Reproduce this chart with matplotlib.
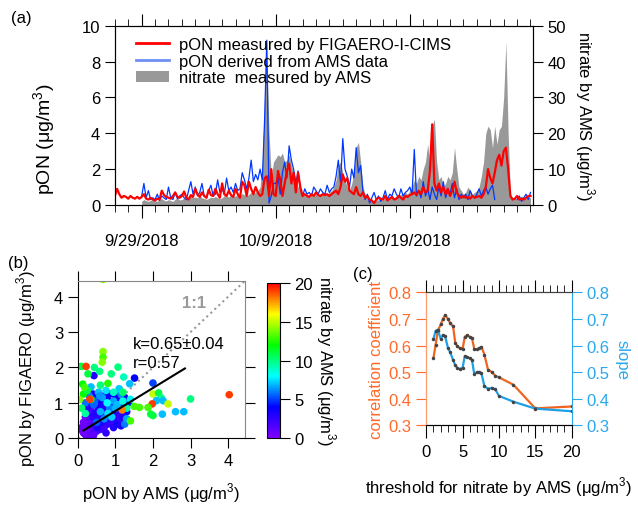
import datetime as dt

import numpy as np
import pandas as pd
import matplotlib
matplotlib.use("Agg")
import matplotlib.pyplot as plt
import matplotlib.dates as mdates
from matplotlib.colors import LinearSegmentedColormap
from matplotlib.lines import Line2D
from matplotlib.patches import Patch
from matplotlib.ticker import MultipleLocator

plt.rcParams["font.family"] = ["Liberation Sans", "DejaVu Sans"]
plt.rcParams["mathtext.fontset"] = "custom"
plt.rcParams["mathtext.rm"] = "Liberation Sans"
plt.rcParams["font.size"] = 12

# ---- (a) time series, 4-hourly values (one row per day) ----
figaero_start = "2018-09-27 00:00"
pon_figaero = [
    0.5, 0.9, 0.6, 0.4, 0.5, 0.45,      # 9/27
    0.35, 0.5, 0.4, 0.35, 0.45, 0.35,   # 9/28
    0.45, 0.6, 0.35, 0.3, 0.4, 0.3,     # 9/29
    0.25, 0.35, 0.3, 0.8, 0.55, 0.45,
    0.4, 0.35, 0.5, 0.7, 0.45, 0.4,
    0.5, 0.75, 0.4, 0.3, 0.55, 0.45,
    0.9, 0.6, 0.45, 0.7, 0.5, 0.4,
    0.85, 0.55, 0.5, 0.9, 0.6, 0.4,
    1.2, 0.6, 0.5, 0.8, 0.55, 0.45,
    0.9, 0.6, 0.4, 1.3, 1.1, 0.5,
    1.3, 0.9, 0.6, 1.0, 0.7, 0.5,       # 10/7
    0.6, 1.5, 1.6, 0.5, 2.0, 0.6,       # 10/8
    0.5, 1.9, 1.4, 0.5, 1.2, 1.9,       # 10/9
    2.3, 1.2, 1.8, 0.7, 1.8, 1.0,
    0.5, 0.6, 0.5, 0.45, 0.6, 0.5,
    0.7, 0.55, 0.5, 0.6, 0.55, 0.6,
    0.5, 0.6, 0.7, 0.8, 0.6, 1.0,
    1.7, 1.3, 1.5, 0.8, 0.7, 0.6,
    1.0, 0.6, 0.5, 0.7, 0.4, 0.5,
    0.3, 0.25, 0.1, 0.3, 0.4, 0.35,
    0.3, 0.5, 0.25, 0.35, 0.45, 0.3,
    0.35, 0.5, 0.4, 0.3, 0.5, 0.45,
    0.55, 0.6, 0.7, 0.55, 0.8, 0.6,     # 10/19
    1.0, 0.7, 0.8, 1.9, 4.5, 1.2,
    0.8, 1.2, 0.7, 1.0, 0.6, 0.9,
    0.5, 0.8, 1.3, 0.7, 0.5, 0.4,
    0.5, 0.4, 0.45, 0.35, 0.5, 0.4,
    0.45, 0.5, 0.4, 0.6, 1.0, 2.0,
    1.5, 1.2, 1.8, 2.5, 2.8, 2.2,
    3.0, 3.2, 2.0, 0.5, 0.3, 0.35,
    0.5, 0.3, 0.35, 0.3, 0.4, 0.5,      # 10/27
    0.5,
]

ams_start = "2018-09-29 00:00"
pon_ams = [
    0.5, 1.2, 0.4, 0.8, 0.3, 0.4,       # 9/29
    0.3, 0.6, 0.25, 0.5, 0.4, 0.3,
    1.0, 0.4, 0.3, 0.7, 0.35, 0.5,
    0.6, 0.4, 0.3, 0.8, 1.3, 0.6,
    1.0, 0.5, 0.7, 1.2, 0.5, 0.4,
    0.8, 1.1, 0.5, 0.6, 1.4, 0.7,
    0.9, 0.6, 1.5, 0.8, 1.0, 0.7,
    1.2, 0.8, 0.9, 1.8, 1.4, 0.9,
    1.5, 2.5, 1.3, 1.7, 1.4, 2.0,       # 10/7
    1.4, 4.7, 9.2, 0.1, 0.5, 1.2,       # 10/8
    1.2, 1.6, 0.6, 1.8, 2.4, 1.5,
    3.3, 2.5, 2.0, 1.2, 1.9, 0.9,
    0.5, 0.9, 0.6, 0.7, 0.5, 1.0,
    0.8, 0.6, 0.9, 0.7, 0.6, 1.1,
    0.7, 0.9, 1.0, 1.6, 2.5, 1.2,
    3.7, 2.0, 1.6, 1.0, 2.0, 1.5,
    3.2, 1.8, 2.2, 0.8, 0.3, 0.6,
    0.1, 0.4, 0.7, 0.3, 0.5, 0.2,
    0.4, 0.8, 0.3, 0.6, 0.5, 0.9,
    0.6, 0.4, 0.9, 0.5, 0.7, 0.8,
    1.0, 0.6, 3.1, 0.5, 0.8, 0.4,       # 10/19
    1.3, 0.5, 0.9, 0.3, 1.0, 0.6,
    0.3, 1.0, 0.5, 1.3, 0.4, 0.8,
    0.6, 1.2, 0.4, 0.9, 0.3, 0.6,
    0.4, 0.6, 0.3, 0.8, 0.5, 0.4,
    0.6, 0.9, 0.5, 0.8, 1.0, 0.6,
    0.9, 1.1, 0.3, np.nan, np.nan, np.nan,
    np.nan, np.nan, np.nan, np.nan, np.nan, np.nan,
    0.3, 0.5, 0.2, 0.4, 0.6, 0.3,
    0.7,
]

nitrate = [
    1.0, 1.5, 1.2, 1.0, 1.3, 1.5,       # 9/29
    1.2, 1.0, 1.5, 1.8, 1.3, 1.1,
    1.5, 1.2, 1.0, 1.6, 2.0, 1.4,
    1.5, 2.0, 1.6, 1.8, 2.5, 2.0,
    2.2, 2.0, 2.5, 2.0, 1.8, 1.6,
    1.8, 2.2, 2.0, 2.4, 2.0, 1.7,
    2.0, 2.6, 2.5, 2.2, 2.8, 2.3,
    2.5, 3.0, 2.6, 3.2, 2.8, 2.5,
    3.0, 3.5, 3.0, 3.6, 4.0, 5.0,
    12, 30, 42, 20, 8, 12,              # 10/8
    13, 14, 13.5, 14.5, 12, 12.5,
    14, 11, 9, 7, 5, 4,
    3, 2.5, 2.8, 2.2, 2.5, 2.6,
    3, 2.5, 3.2, 2.8, 3.5, 3,
    3.5, 4, 5, 7, 11, 12,
    9, 7, 5, 4, 6, 9,
    16, 17.5, 12, 5, 3, 2,
    1.5, 1.2, 1, 1.3, 1.5, 1.2,
    1.5, 2, 1.8, 2.2, 2.5, 2,
    2.5, 3, 2.8, 3.2, 3.5, 3,
    4, 5, 7, 6, 8, 7,                   # 10/19
    10, 12, 17, 11, 22, 24,
    12, 7, 8, 5, 6, 8,
    7, 9, 16, 10, 5, 4,
    3, 3.5, 5, 4, 3, 3.5,
    4, 5, 8, 12, 20, 22,
    21, 16, 22, 17, 21, 22,
    30, 45.5, 20, 3, 2, 2,
    1.5, 2, 2.5, 2, 1.8, 2.2,
    2,
]

date_ticks = [dt.datetime(2018, 9, 29), dt.datetime(2018, 10, 9), dt.datetime(2018, 10, 19)]
date_labels = ["9/29/2018", "10/9/2018", "10/19/2018"]

# ---- (b) scatter: pON by AMS, pON by FIGAERO, nitrate ----
sc_ams = [
    0.15, 0.2, 0.25, 0.18, 0.3, 0.35, 0.22, 0.28, 0.4, 0.12, 0.32, 0.45, 0.38, 0.5, 0.25,
    0.15, 0.55, 0.42, 0.6, 0.2, 0.48, 0.65, 0.3, 0.7, 0.75, 0.58, 0.8, 0.85, 0.9, 0.95,
    1.0, 1.05, 1.1, 1.15, 0.68, 0.35, 0.1, 0.22, 0.33, 0.27,
    0.45, 0.55, 0.62, 0.72, 0.8, 0.9, 1.0, 1.1, 1.2, 1.25, 0.95, 1.05, 1.3, 0.5, 0.4,
    0.3, 0.6, 1.15, 0.85, 1.2, 0.75, 0.25, 0.4, 0.7, 1.35, 0.52, 0.9, 1.0, 0.63,
    0.3, 0.45, 0.55, 0.65, 0.75, 0.85, 0.95, 1.05, 1.15, 0.2, 0.6, 0.9, 1.25, 1.3, 0.5,
    0.35, 0.8, 1.0, 1.4, 0.7, 1.1, 0.42, 0.58, 0.78, 1.2,
    0.1, 0.2, 0.15, 0.6, 0.95, 1.2, 0.35, 0.8, 1.3, 1.5, 0.25,
    0.67, 0.67, 0.67, 0.65, 0.09, 0.22, 0.44, 0.43, 0.27, 0.13, 0.18, 0.58, 0.89, 1.07,
    1.22, 1.51, 1.38, 2.0, 0.04, 2.0, 2.15, 2.22, 2.09, 2.27, 1.98, 2.4, 3.0, 4.03,
    1.64, 1.87, 1.94, 2.0, 2.25, 2.6, 2.82, 1.4, 0.32, 1.18,
]
sc_figaero = [
    0.15, 0.1, 0.2, 0.3, 0.12, 0.25, 0.4, 0.05, 0.15, 0.22, 0.35, 0.3, 0.45, 0.2, 0.5,
    0.45, 0.35, 0.08, 0.25, 0.6, 0.5, 0.4, 0.65, 0.3, 0.5, 0.6, 0.4, 0.6, 0.45, 0.7,
    0.55, 0.8, 0.65, 0.5, 0.75, 0.8, 0.3, 0.25, 0.05, 0.6,
    0.7, 0.85, 1.0, 0.9, 1.1, 0.95, 1.2, 1.05, 0.9, 1.15, 0.3, 0.4, 0.75, 1.1, 1.25,
    0.95, 0.55, 0.35, 1.25, 0.6, 0.15, 0.85, 0.6, 1.2, 1.0, 0.3, 0.75, 0.9, 0.45,
    1.2, 1.05, 1.3, 1.15, 1.35, 0.85, 1.05, 0.95, 1.25, 1.0, 0.75, 0.6, 0.4, 0.55, 0.45,
    1.45, 0.7, 0.85, 1.1, 0.55, 1.4, 0.95, 1.2, 1.0, 1.05,
    0.85, 0.7, 1.25, 1.5, 1.3, 1.3, 1.1, 1.55, 0.85, 0.9, 1.35,
    4.49, 2.45, 2.29, 2.15, 2.03, 2.03, 2.0, 1.77, 1.82, 1.53, 1.44, 1.89, 1.82, 2.01,
    1.73, 1.7, 1.54, 1.56, 1.09, 1.25, 1.28, 1.14, 1.06, 1.06, 0.97, 0.97, 1.11, 1.23,
    0.87, 0.87, 0.68, 0.64, 0.68, 0.75, 0.75, 0.49, 1.1, 0.8,
]
sc_nitrate = [
    0.5, 0.8, 1.0, 0.6, 1.2, 1.0, 0.9, 0.7, 1.5, 0.4, 1.2, 1.6, 1.4, 1.8, 0.9,
    0.6, 1.5, 1.1, 2.0, 1.0, 1.7, 2.2, 1.3, 1.9, 2.0, 1.6, 2.4, 2.2, 2.5, 2.6,
    2.3, 2.8, 2.5, 2.1, 1.8, 1.5, 0.8, 0.7, 1.0, 1.2,
    3.0, 3.2, 3.5, 2.8, 3.6, 3.0, 3.8, 3.4, 2.9, 3.5, 3.0, 3.3, 3.6, 3.8, 3.2,
    2.6, 2.7, 3.1, 3.9, 3.0, 2.5, 2.8, 2.9, 4.0, 4.2, 3.0, 3.4, 3.7, 3.1,
    6.0, 5.5, 7.0, 6.5, 7.5, 6.0, 6.5, 7.0, 6.2, 5.8, 6.8, 7.2, 6.0, 6.5, 5.5,
    7.0, 7.5, 6.8, 7.8, 6.2, 7.2, 5.6, 6.4, 8.0, 8.5,
    10.5, 9.5, 12.0, 10.0, 9.0, 10.5, 11.5, 12.5, 9.5, 13.0, 11.0,
    14.0, 14.0, 13.0, 14.0, 11.0, 19.0, 10.0, 3.0, 11.0, 12.0, 13.0, 10.0, 10.0, 10.0,
    9.0, 4.0, 7.0, 5.0, 14.0, 15.0, 11.0, 10.0, 7.0, 7.0, 19.0, 15.0, 10.0, 19.0,
    13.0, 13.0, 11.0, 11.0, 7.0, 7.0, 7.0, 13.0, 19.0, 18.0,
]
fit_k = 0.65
fit_b = 0.12
fit_range = [0.15, 2.85]

# ---- (c) threshold analysis ----
thresholds = [1.0, 1.3, 1.6, 2.0, 2.3, 2.6, 3.0, 3.3, 3.7, 4.0, 4.3, 4.6, 5.0, 5.3, 5.6,
              6.0, 6.3, 6.6, 7.0, 7.3, 7.6, 8.0, 8.5, 9.0, 9.5, 10, 12, 15, 20]
corr_coef = [0.553, 0.603, 0.655, 0.68, 0.70, 0.715, 0.70, 0.685, 0.672, 0.61, 0.597, 0.59,
             0.585, 0.633, 0.638, 0.633, 0.628, 0.588, 0.585, 0.59, 0.595, 0.566, 0.509,
             0.5, 0.486, 0.48, 0.452, 0.363, 0.37]
slope = [0.625, 0.655, 0.66, 0.625, 0.64, 0.635, 0.59, 0.575, 0.545, 0.525, 0.515, 0.512,
         0.515, 0.56, 0.555, 0.553, 0.545, 0.494, 0.5, 0.5, 0.495, 0.447, 0.437, 0.44,
         0.435, 0.41, 0.388, 0.362, 0.352]

orange = "#ff6a2a"
orange_line = "#f0641e"
blue = "#2aa8ee"
blue_line = "#1e9fe6"
TICK = 12
LAB = 12

rainbow = LinearSegmentedColormap.from_list(
    "igor_rainbow",
    [(0.5, 0.0, 1.0), (0.0, 0.0, 1.0), (0.0, 1.0, 1.0), (0.0, 1.0, 0.0), (1.0, 1.0, 0.0), (1.0, 0.0, 0.0)],
)

fig = plt.figure(figsize=(6.38, 5.06), dpi=100)

# ================= (a) =================
t_fig = pd.date_range(figaero_start, periods=len(pon_figaero), freq="4h")
t_ams = pd.date_range(ams_start, periods=len(pon_ams), freq="4h")

ax_a = fig.add_axes([0.180, 0.593, 0.655, 0.354])
ax_n = ax_a.twinx()
ax_a.set_zorder(ax_n.get_zorder() + 1)
ax_a.patch.set_visible(False)

ax_n.fill_between(t_ams, 0, nitrate, color="#999999", lw=0)
ax_a.plot(t_ams, pon_ams, color="#0038ff", lw=0.9)
ax_a.plot(t_fig, pon_figaero, color="#ff0000", lw=1.6)

ax_a.set_xlim(dt.datetime(2018, 9, 27), dt.datetime(2018, 10, 28, 4))
ax_a.set_ylim(0, 10)
ax_n.set_ylim(0, 50)
ax_a.set_xticks(date_ticks)
ax_a.set_xticklabels(date_labels)
ax_a.xaxis.set_minor_locator(mdates.DayLocator())
ax_a.set_yticks(np.arange(0, 11, 2))
ax_n.set_yticks(np.arange(0, 51, 10))
ax_a.tick_params(axis="x", which="major", direction="out", length=9, top=True, pad=11, labelsize=TICK)
ax_a.tick_params(axis="x", which="minor", direction="out", length=5, top=True)
ax_a.tick_params(axis="y", direction="out", length=7, labelsize=TICK)
ax_n.tick_params(axis="y", direction="out", length=7, labelsize=TICK)
ax_a.set_ylabel(r"pON (μg/m$^{3}$)", fontsize=14)
ax_a.yaxis.set_label_coords(-0.135, 0.37)
ax_n.set_ylabel(r"nitrate by AMS (μg/m$^{3}$)", fontsize=LAB, rotation=270, labelpad=22)

handles = [
    Line2D([], [], color="#ff0000", lw=2),
    Line2D([], [], color="#6f8ff5", lw=2),
    Patch(facecolor="#999999", edgecolor="none"),
]
labels = ["pON measured by FIGAERO-I-CIMS", "pON derived from AMS data", "nitrate  measured by AMS"]
ax_a.legend(handles, labels, loc="upper left", bbox_to_anchor=(0.035, 0.975), frameon=False,
            fontsize=12, handlelength=2.0, handletextpad=0.6, labelspacing=0.1, borderaxespad=0)
fig.text(0.018, 0.955, "(a)", fontsize=LAB)

# ================= (b) =================
ax_b = fig.add_axes([0.122, 0.132, 0.262, 0.311])
lim = 4.45
ax_b.plot([0, lim], [0, lim], ls=":", color="#999999", lw=1.5, zorder=1)
sc = ax_b.scatter(sc_ams, sc_figaero, c=sc_nitrate, cmap=rainbow, vmin=0, vmax=20,
                  s=30, edgecolors="none", zorder=2)
fx = np.array(fit_range)
ax_b.plot(fx, fit_k * fx + fit_b, color="black", lw=1.5, zorder=3)
ax_b.set_xlim(0, lim)
ax_b.set_ylim(0, lim)
ax_b.set_xticks([0, 1, 2, 3, 4])
ax_b.set_yticks([0, 1, 2, 3, 4])
ax_b.tick_params(direction="out", length=7, top=True, right=True, labelsize=TICK)
for side in ("top", "right"):
    ax_b.spines[side].set_color("#888888")
ax_b.text(3.1, 3.85, "1:1", color="#999999", fontsize=LAB, ha="center", va="center", fontweight="bold")
ax_b.text(1.47, 2.67, "k=0.65±0.04", fontsize=LAB, va="center")
ax_b.text(1.47, 2.15, "r=0.57", fontsize=LAB, va="center")
ax_b.set_xlabel(r"pON by AMS (μg/m$^{3}$)", fontsize=LAB, labelpad=9)
ax_b.set_ylabel(r"pON by FIGAERO (μg/m$^{3}$)", fontsize=LAB)
ax_b.yaxis.set_label_coords(-0.24, 0.45)
fig.text(0.013, 0.470, "(b)", fontsize=LAB)

cax = fig.add_axes([0.4185, 0.132, 0.020, 0.307])
cb = fig.colorbar(sc, cax=cax, ticks=[0, 5, 10, 15, 20])
cb.ax.tick_params(direction="out", length=7, labelsize=TICK)
cb.set_label(r"nitrate by AMS (μg/m$^{3}$)", fontsize=LAB, rotation=270, labelpad=18)

# ================= (c) =================
ax_c = fig.add_axes([0.668, 0.158, 0.228, 0.262])
ax_s = ax_c.twinx()
ax_c.plot(thresholds, corr_coef, color=orange_line, lw=1.6, marker="o", ms=1.5,
          mfc="#444444", mec="#444444")
ax_s.plot(thresholds, slope, color=blue_line, lw=1.6, marker="o", ms=1.5,
          mfc="#444444", mec="#444444")
ax_c.set_xlim(0, 20)
ax_c.set_ylim(0.3, 0.8)
ax_s.set_ylim(0.3, 0.8)
ax_c.set_xticks([0, 5, 10, 15, 20])
ax_c.xaxis.set_minor_locator(MultipleLocator(1))
ax_c.set_yticks(np.arange(0.3, 0.81, 0.1))
ax_s.set_yticks(np.arange(0.3, 0.81, 0.1))
ax_c.tick_params(axis="x", which="major", direction="out", length=9, top=True, labelsize=TICK, pad=5)
ax_c.tick_params(axis="x", which="minor", direction="out", length=5, top=True)
ax_c.tick_params(axis="y", direction="out", length=7, color=orange, labelcolor=orange, labelsize=TICK)
ax_s.tick_params(axis="y", direction="out", length=7, color=blue, labelcolor=blue, labelsize=TICK)
ax_s.spines["left"].set_color("#ff9a6a")
ax_s.spines["right"].set_color(blue)
ax_c.spines["left"].set_color("#ff9a6a")
ax_c.spines["right"].set_visible(False)
ax_s.spines["top"].set_color("#444444")
ax_c.set_ylabel("correlation coefficient", color=orange, fontsize=LAB, labelpad=3)
ax_s.set_ylabel("slope", color=blue, fontsize=LAB, rotation=270, labelpad=15)
ax_c.set_xlabel(r"threshold for nitrate by AMS (μg/m$^{3}$)", fontsize=LAB, labelpad=11)
fig.text(0.553, 0.448, "(c)", fontsize=LAB)

fig.savefig("out.png", dpi=100)
